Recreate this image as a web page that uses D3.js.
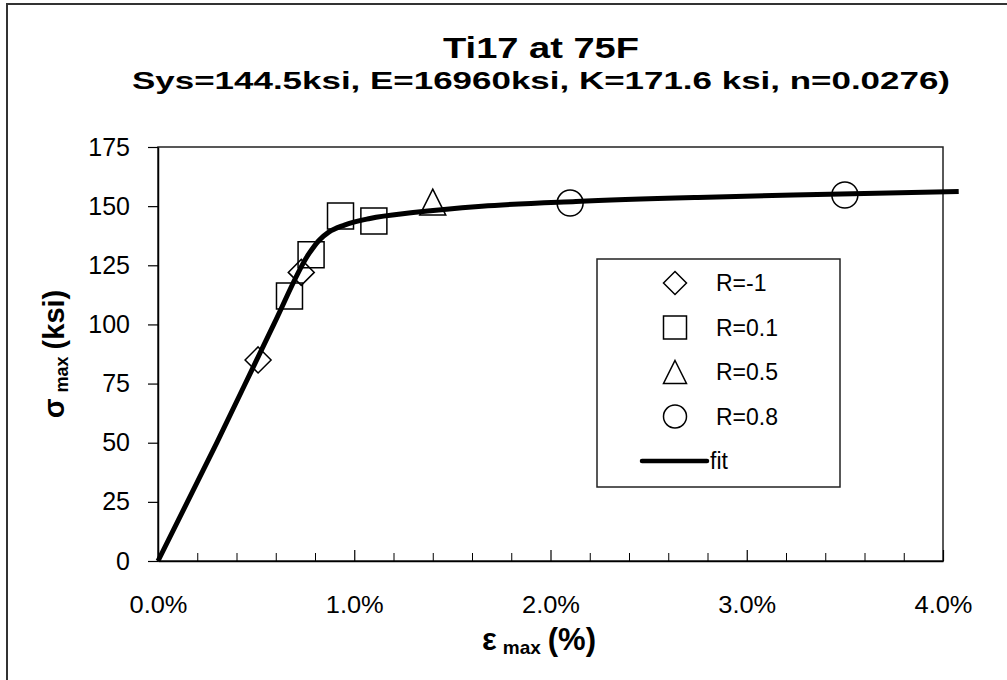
<!DOCTYPE html>
<html>
<head>
<meta charset="utf-8">
<script src="https://cdn.jsdelivr.net/npm/d3@7"></script>
<style>
  body { margin: 0; background: #fff; }
  svg { display: block; font-family: "Liberation Sans", Arial, sans-serif; }
</style>
</head>
<body>
<div id="chart"></div>
<script>
// values (strain in %, stress in ksi)
var rm1Strain = [0.51, 0.73];
var rm1Stress = [85, 122];
var r01Strain = [0.67, 0.78, 0.93, 1.10];
var r01Stress = [112, 129.5, 145.8, 143.7];
var r05Strain = [1.40];
var r05Stress = [151.7];
var r08Strain = [2.10, 3.50];
var r08Stress = [151.3, 154.7];
var fitStrain = [0, 0.30, 0.59, 0.77, 0.82, 0.87, 0.95, 1.08, 1.30, 1.65, 2.13, 2.75, 3.42, 4.08];
var fitStress = [0, 50, 100, 130, 135.5, 139, 142, 144.8, 147.3, 150, 152, 153.7, 155, 156.2];
var xTicks = [0, 1, 2, 3, 4];
var xMinorTicks = [0.2, 0.4, 0.6, 0.8, 1.2, 1.4, 1.6, 1.8, 2.2, 2.4, 2.6, 2.8, 3.2, 3.4, 3.6, 3.8];
var yTicks = [0, 25, 50, 75, 100, 125, 150, 175];
var legendNames = ["R=-1", "R=0.1", "R=0.5", "R=0.8", "fit"];

var w = 1007;
var h = 680;

var svg = d3.select("#chart")
  .append("svg")
  .attr("width", w)
  .attr("height", h);

// outer chart frame (only left/top edges are inside the picture)
svg.append("rect")
  .attr("x", 7).attr("y", 4)
  .attr("width", 1100).attr("height", 800)
  .attr("fill", "none")
  .attr("stroke", "#333")
  .attr("stroke-width", 2);

var x = d3.scaleLinear().domain([0, 4]).range([158, 943]);
var y = d3.scaleLinear().domain([0, 175]).range([561, 147]);

//plot area border//
svg.append("rect")
  .attr("x", x(0)).attr("y", y(175))
  .attr("width", x(4) - x(0)).attr("height", y(0) - y(175))
  .attr("fill", "none")
  .attr("stroke", "#222")
  .attr("stroke-width", 1.5);

//titles - Excel draws these wider than the plain font, so fix their length//
svg.append("text")
  .attr("x", 541).attr("y", 58)
  .attr("text-anchor", "middle")
  .attr("font-size", "30px")
  .attr("font-weight", "bold")
  .attr("textLength", 196)
  .attr("lengthAdjust", "spacingAndGlyphs")
  .text("Ti17 at 75F");

svg.append("text")
  .attr("x", 541).attr("y", 89)
  .attr("text-anchor", "middle")
  .attr("font-size", "24px")
  .attr("font-weight", "bold")
  .attr("textLength", 818)
  .attr("lengthAdjust", "spacingAndGlyphs")
  .text("Sys=144.5ksi, E=16960ksi, K=171.6 ksi, n=0.0276)");

//y axis//
var yAxis = svg.append("g")
  .attr("transform", "translate(" + x(0) + ",0)")
  .call(d3.axisLeft(y).tickValues(yTicks).tickSize(10).tickPadding(18).tickSizeOuter(0));

yAxis.select(".domain").attr("stroke", "#000").attr("stroke-width", 1.5);
yAxis.selectAll(".tick line").attr("stroke", "#000").attr("stroke-width", 1.2);
yAxis.selectAll(".tick text")
  .attr("font-size", "25px")
  .attr("font-family", "Liberation Sans, Arial, sans-serif")
  .attr("fill", "#000");

//x axis, ticks point up into the plot//
var xAxis = svg.append("g")
  .attr("transform", "translate(0," + y(0) + ")")
  .call(d3.axisBottom(x).tickValues(xTicks).tickSize(-11).tickPadding(35).tickSizeOuter(0)
    .tickFormat(function(d) { return d.toFixed(1) + "%"; }));

xAxis.select(".domain").attr("stroke", "#000").attr("stroke-width", 1.5);
xAxis.selectAll(".tick line").attr("stroke", "#000").attr("stroke-width", 1.2);
xAxis.selectAll(".tick text")
  .attr("font-size", "24px")
  .attr("font-family", "Liberation Sans, Arial, sans-serif")
  .attr("fill", "#000")
  .attr("textLength", 58)
  .attr("lengthAdjust", "spacingAndGlyphs");

var xMinor = svg.append("g")
  .attr("transform", "translate(0," + y(0) + ")")
  .call(d3.axisBottom(x).tickValues(xMinorTicks).tickSize(-8).tickFormat("").tickSizeOuter(0));
xMinor.select(".domain").remove();
xMinor.selectAll(".tick line").attr("stroke", "#000").attr("stroke-width", 1);

//axis titles//
var xTitle = svg.append("text")
  .attr("x", 539).attr("y", 650)
  .attr("text-anchor", "middle")
  .attr("font-weight", "bold")
  .attr("font-size", "31px");
xTitle.append("tspan").text("\u03b5");
xTitle.append("tspan").attr("font-size", "19px").attr("dx", 6).attr("dy", 4).text("max");
xTitle.append("tspan").attr("dx", 7).attr("dy", -4).text("(%)");

var yTitle = svg.append("text")
  .attr("transform", "translate(64,354) rotate(-90)")
  .attr("text-anchor", "middle")
  .attr("font-weight", "bold")
  .attr("font-size", "29px");
yTitle.append("tspan").text("\u03c3");
yTitle.append("tspan").attr("font-size", "18px").attr("dx", 6).attr("dy", 4).text("max");
yTitle.append("tspan").attr("dx", 7).attr("dy", -4).text("(ksi)");

//fit line//
var fitData = fitStrain.map(function(d, i) { return {e: d, s: fitStress[i]}; });
var line = d3.line()
  .x(function(d) { return x(d.e); })
  .y(function(d) { return y(d.s); })
  .curve(d3.curveMonotoneX);

svg.append("path")
  .datum(fitData)
  .attr("d", line)
  .attr("fill", "none")
  .attr("stroke", "#000")
  .attr("stroke-width", 5);

//markers//
var half = 13;
function markerPath(type, cx, cy, r) {
  var p = d3.path();
  if (type == "diamond") {
    p.moveTo(cx, cy - r); p.lineTo(cx + r, cy); p.lineTo(cx, cy + r); p.lineTo(cx - r, cy); p.closePath();
  } else if (type == "square") {
    p.rect(cx - r, cy - r, 2 * r, 2 * r);
  } else if (type == "triangle") {
    p.moveTo(cx, cy - r); p.lineTo(cx + r, cy + r); p.lineTo(cx - r, cy + r); p.closePath();
  } else {
    p.moveTo(cx + r, cy); p.arc(cx, cy, r, 0, 2 * Math.PI);
  }
  return p.toString();
}

var series = [
  {type: "diamond", e: rm1Strain, s: rm1Stress},
  {type: "square", e: r01Strain, s: r01Stress},
  {type: "triangle", e: r05Strain, s: r05Stress},
  {type: "circle", e: r08Strain, s: r08Stress}
];

series.forEach(function(ser) {
  var pts = ser.e.map(function(d, i) { return {e: d, s: ser.s[i]}; });
  svg.append("g").selectAll("path")
    .data(pts)
    .enter()
    .append("path")
    .attr("d", function(d) { return markerPath(ser.type, x(d.e), y(d.s), half); })
    .attr("fill", "none")
    .attr("stroke", "#000")
    .attr("stroke-width", 1.5);
});

//legend//
var lg = svg.append("g");
lg.append("rect")
  .attr("x", 597).attr("y", 259)
  .attr("width", 243).attr("height", 228)
  .attr("fill", "#fff")
  .attr("stroke", "#222")
  .attr("stroke-width", 1.5);

var rowY = d3.scalePoint().domain(legendNames).range([283, 461]);

series.forEach(function(ser, i) {
  lg.append("path")
    .attr("d", markerPath(ser.type, 675, rowY(legendNames[i]), 11.5))
    .attr("fill", "none")
    .attr("stroke", "#000")
    .attr("stroke-width", 1.5);
});

lg.append("line")
  .attr("x1", 642).attr("x2", 707)
  .attr("y1", rowY("fit")).attr("y2", rowY("fit"))
  .attr("stroke", "#000")
  .attr("stroke-width", 4.5)
  .attr("stroke-linecap", "round");

lg.selectAll("text")
  .data(legendNames)
  .enter()
  .append("text")
  .attr("x", function(d) { return d == "fit" ? 710 : 716; })
  .attr("y", function(d) { return rowY(d); })
  .attr("dy", "0.35em")
  .attr("font-size", "23px")
  .text(function(d) { return d; });
</script>
</body>
</html>
